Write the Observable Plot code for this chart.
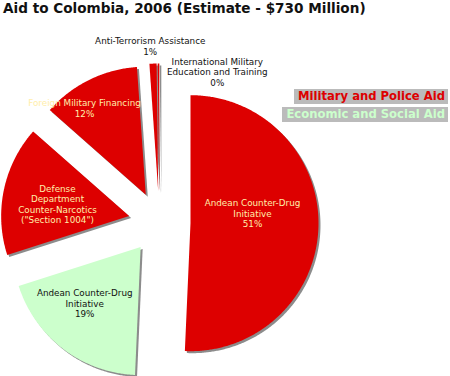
<!DOCTYPE html>
<html><head><meta charset="utf-8">
<script src="https://cdn.jsdelivr.net/npm/d3@7"></script>
<script src="https://cdn.jsdelivr.net/npm/@observablehq/plot@0.6"></script>
<style>
body{margin:0;background:#fff;font-family:"DejaVu Sans",Verdana,sans-serif;}
#wrap{position:relative;width:450px;height:376px;overflow:hidden;background:#fff}
#title{position:absolute;left:3px;top:0;height:24px;font-weight:bold;font-size:13.6px;line-height:16px;color:#111;white-space:nowrap}
#chart{position:absolute;left:0;top:24px}
.leg{position:absolute;right:2px;height:15px;background:#bbbbbb;font-weight:bold;font-size:11.6px;line-height:15px;text-align:right;padding:0 3px 0 4px;white-space:nowrap}
</style></head><body>
<div id="wrap">
  <div id="title">Aid to Colombia, 2006 (Estimate - $730 Million)</div>
  <div id="chart"></div>
  <div id="legend"></div>
</div>
<script>
// ---- data ----
const sliceNames = [
  "Andean Counter-Drug\nInitiative",
  "Andean Counter-Drug\nInitiative",
  "Defense\nDepartment\nCounter-Narcotics\n(\"Section 1004\")",
  "Foreign Military Financing",
  "Anti-Terrorism Assistance",
  "International Military\nEducation and Training"
];
const shares = [50.7, 19.4, 16.4, 12.4, 0.9, 0.2];
const shareLabels = ["51%", "19%", "", "12%", "1%", "0%"];
const sliceGroups = [
  "Military and Police Aid", "Economic and Social Aid", "Military and Police Aid",
  "Military and Police Aid", "Military and Police Aid", "Military and Police Aid"
];
const legendGroups = ["Military and Police Aid", "Economic and Social Aid"];

// ---- styles / layout ----
const groupColor = {"Military and Police Aid": "#dd0000", "Economic and Social Aid": "#ccffcc"};
const legendText = {"Military and Police Aid": "#dd0000", "Economic and Social Aid": "#ccffcc"};
const labelColor = ["#ffeeaa", "#111111", "#ffeeaa", "#ffeeaa", "#111111", "#111111"];
// label placement (angle in degrees clockwise from 12 o'clock, radius as fraction of pie radius)
const labelAngle = [84.4, 222.8, 280.3, 326.8, 357, 21];
const labelRadius = [0.73, 0.86, 0.81, 1.07, 1.38, 1.26];

const W = 450, H = 352, TOP = 24;
const R = 128, CX = 159, CY = 222, EXPLODE = 31;
const off = EXPLODE / R;

const arcs = d3.pie().sort(null).value(d => d)(shares);
const pts = [];
arcs.forEach((a, i) => {
  const mid = (a.startAngle + a.endAngle) / 2;
  const ax = off * Math.sin(mid), ay = off * Math.cos(mid);
  const color = groupColor[sliceGroups[i]];
  const id = i;
  pts.push({id, color, x: ax, y: ay});
  const n = Math.max(2, Math.ceil((a.endAngle - a.startAngle) / (Math.PI / 360)));
  for (let k = 0; k <= n; k++) {
    const t = a.startAngle + (a.endAngle - a.startAngle) * k / n;
    pts.push({id, color, x: ax + Math.sin(t), y: ay + Math.cos(t)});
  }
  pts.push({id, color, x: ax, y: ay});
});

const labels = sliceNames.map((name, i) => {
  const t = labelAngle[i] * Math.PI / 180, r = labelRadius[i];
  return {
    text: shareLabels[i] ? name + "\n" + shareLabels[i] : name,
    x: r * Math.sin(t), y: r * Math.cos(t), color: labelColor[i]
  };
});

const chart = Plot.plot({
  width: W, height: H, margin: 0,
  style: {fontFamily: "'DejaVu Sans', Verdana, sans-serif", background: "transparent"},
  x: {domain: [(0 - CX) / R, (W - CX) / R], axis: null},
  y: {domain: [(CY - (TOP + H)) / R, (CY - TOP) / R], axis: null},
  color: {type: "identity"},
  marks: [
    Plot.line(pts, {x: "x", y: "y", z: "id", fill: "#8c8c8c", stroke: "none", dx: 2, dy: 2}),
    Plot.line(pts, {x: "x", y: "y", z: "id", fill: "color", stroke: "none"}),
    Plot.text(labels, {x: "x", y: "y", text: "text", fill: "color", fontSize: 8.8, lineHeight: 1.2})
  ]
});
document.getElementById("chart").appendChild(chart);

const legend = document.getElementById("legend");
const legTop = [89, 107];
legendGroups.forEach((g, i) => {
  const d = document.createElement("div");
  d.className = "leg";
  d.style.top = legTop[i] + "px";
  d.style.color = legendText[g];
  d.textContent = g;
  legend.appendChild(d);
});
</script>
</body></html>
